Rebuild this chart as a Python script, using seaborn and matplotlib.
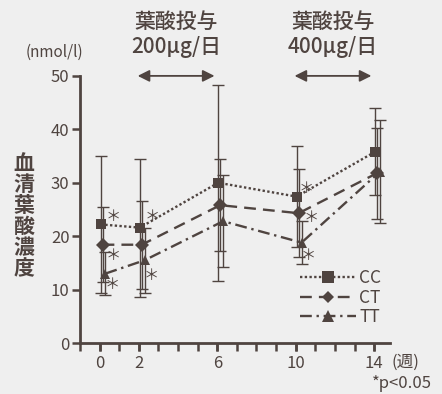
import seaborn as sns
import matplotlib.pyplot as plt
import pandas as pd
import numpy as np

# data (mean, sd)
weeks = [0, 2, 6, 10, 14]
groups = ['CC', 'CT', 'TT']
cc_mean = [22.2, 21.6, 30.0, 27.4, 35.8]
cc_sd = [12.8, 12.9, 18.3, 9.5, 8.1]
ct_mean = [18.4, 18.4, 25.8, 24.3, 31.8]
ct_sd = [7.0, 8.2, 8.6, 8.2, 8.5]
tt_mean = [13.0, 15.5, 22.8, 18.8, 32.1]
tt_sd = [4.1, 6.1, 8.6, 4.1, 9.6]
yticks = [0, 10, 20, 30, 40, 50]
# significant points (group, week)
signif = [('CC', 0), ('CT', 0), ('TT', 0), ('CC', 2), ('TT', 2),
          ('CC', 10), ('CT', 10), ('TT', 10)]

ink = '#4f4440'
bg = '#efefef'

sns.set_style('white')
plt.rcParams['font.family'] = ['Noto Sans CJK JP', 'DejaVu Sans']

means = {'CC': cc_mean, 'CT': ct_mean, 'TT': tt_mean}
sds = {'CC': cc_sd, 'CT': ct_sd, 'TT': tt_sd}
shift = {'CC': 0.05, 'CT': 0.15, 'TT': 0.3}

rows = []
for g in groups:
    for w, m, s in zip(weeks, means[g], sds[g]):
        rows.append({'group': g, 'week': w + shift[g], 'mean': m, 'sd': s})
df = pd.DataFrame(rows)

fig = plt.figure(figsize=(4.42, 3.94), dpi=100, facecolor=bg)
ax = fig.add_axes([0.181, 0.1294, 0.701, 0.678])
ax.set_facecolor(bg)

for g in groups:
    d = df[df.group == g]
    ax.errorbar(d.week, d['mean'], yerr=d.sd, fmt='none', ecolor=ink,
                elinewidth=1.0, capsize=4, capthick=1.0, zorder=2)

sns.lineplot(data=df, x='week', y='mean', hue='group', style='group',
             palette=[ink] * 3, markers={'CC': 's', 'CT': 'D', 'TT': '^'},
             dashes={'CC': (1, 1), 'CT': (5, 3), 'TT': (5, 2, 1, 2)},
             markersize=7, markeredgewidth=0, linewidth=1.7, ax=ax, zorder=3)

# legend
h, l = ax.get_legend_handles_labels()
for hh in h:
    hh.set_markersize(8 if hh.get_marker() != 'D' else 6.5)
ax.legend(h, l, loc='lower right', bbox_to_anchor=(1.0, 0.03), frameon=False,
          fontsize=12.5, handlelength=3.2, handletextpad=0.2, labelspacing=0.1,
          borderpad=0, labelcolor=ink)

# asterisks
star_off = {('CC', 0): (9, 6), ('CT', 0): (8, -8), ('TT', 0): (5, -8),
            ('CC', 2): (9, 8), ('TT', 2): (5, -11),
            ('CC', 10): (7, 6), ('CT', 10): (9, -3), ('TT', 10): (5, -9)}
for g, w in signif:
    i = weeks.index(w)
    ax.annotate('＊', (w + shift[g], means[g][i]), xytext=star_off[(g, w)],
                textcoords='offset points', ha='center', va='center',
                fontsize=11, color=ink)

ax.set_xlim(-1, 14.8)
ax.set_ylim(0, 50)
ax.set_xticks(weeks)
ax.set_yticks(yticks)
# weekly tick marks along the x axis
all_weeks = np.arange(-1, 15)
ax.plot(all_weeks, np.zeros(len(all_weeks)), linestyle='none', marker=3,
        markersize=5.5, markeredgewidth=1.8, color=ink, clip_on=False, zorder=4)
ax.set_xlabel('')
ax.set_ylabel('')
for side in ['top', 'right']:
    ax.spines[side].set_visible(False)
for side in ['left', 'bottom']:
    ax.spines[side].set_color(ink)
    ax.spines[side].set_linewidth(2.0)
ax.tick_params(axis='both', direction='out', color=ink, labelcolor=ink,
               labelsize=12, width=1.8, length=5.5, pad=2,
               bottom=True, left=True)
ax.tick_params(axis='x', pad=3)

# dosing arrows and headers
for x0, x1, xc, dose in [(1.8, 6.0, 3.9, '200μg/日'), (9.8, 14.0, 11.9, '400μg/日')]:
    ax.annotate('', xy=(x1, 50), xytext=(x0, 50), xycoords='data',
                arrowprops=dict(arrowstyle='<|-|>,head_length=0.7,head_width=0.35',
                                color=ink, facecolor=bg, lw=1.3),
                annotation_clip=False)
    ax.text(xc, 1.155, '葉酸投与\n' + dose, transform=ax.get_xaxis_transform(),
            ha='center', va='center', fontsize=15, color=ink, linespacing=1.2,
            fontweight='medium')

fig.text(54 / 442, 1 - 52 / 394, '(nmol/l)', ha='center', va='center',
         fontsize=11, color=ink)
fig.text(24 / 442, 1 - 216 / 394, '\n'.join('血清葉酸濃度'), ha='center',
         va='center', fontsize=15, color=ink, fontweight='bold', linespacing=1.0)
fig.text(405 / 442, 1 - 362 / 394, '(週)', ha='center', va='center',
         fontsize=12, color=ink)
fig.text(402 / 442, 1 - 383 / 394, '*p<0.05', ha='center', va='center',
         fontsize=12, color=ink)

fig.savefig('out.png', dpi=100, facecolor=bg)
